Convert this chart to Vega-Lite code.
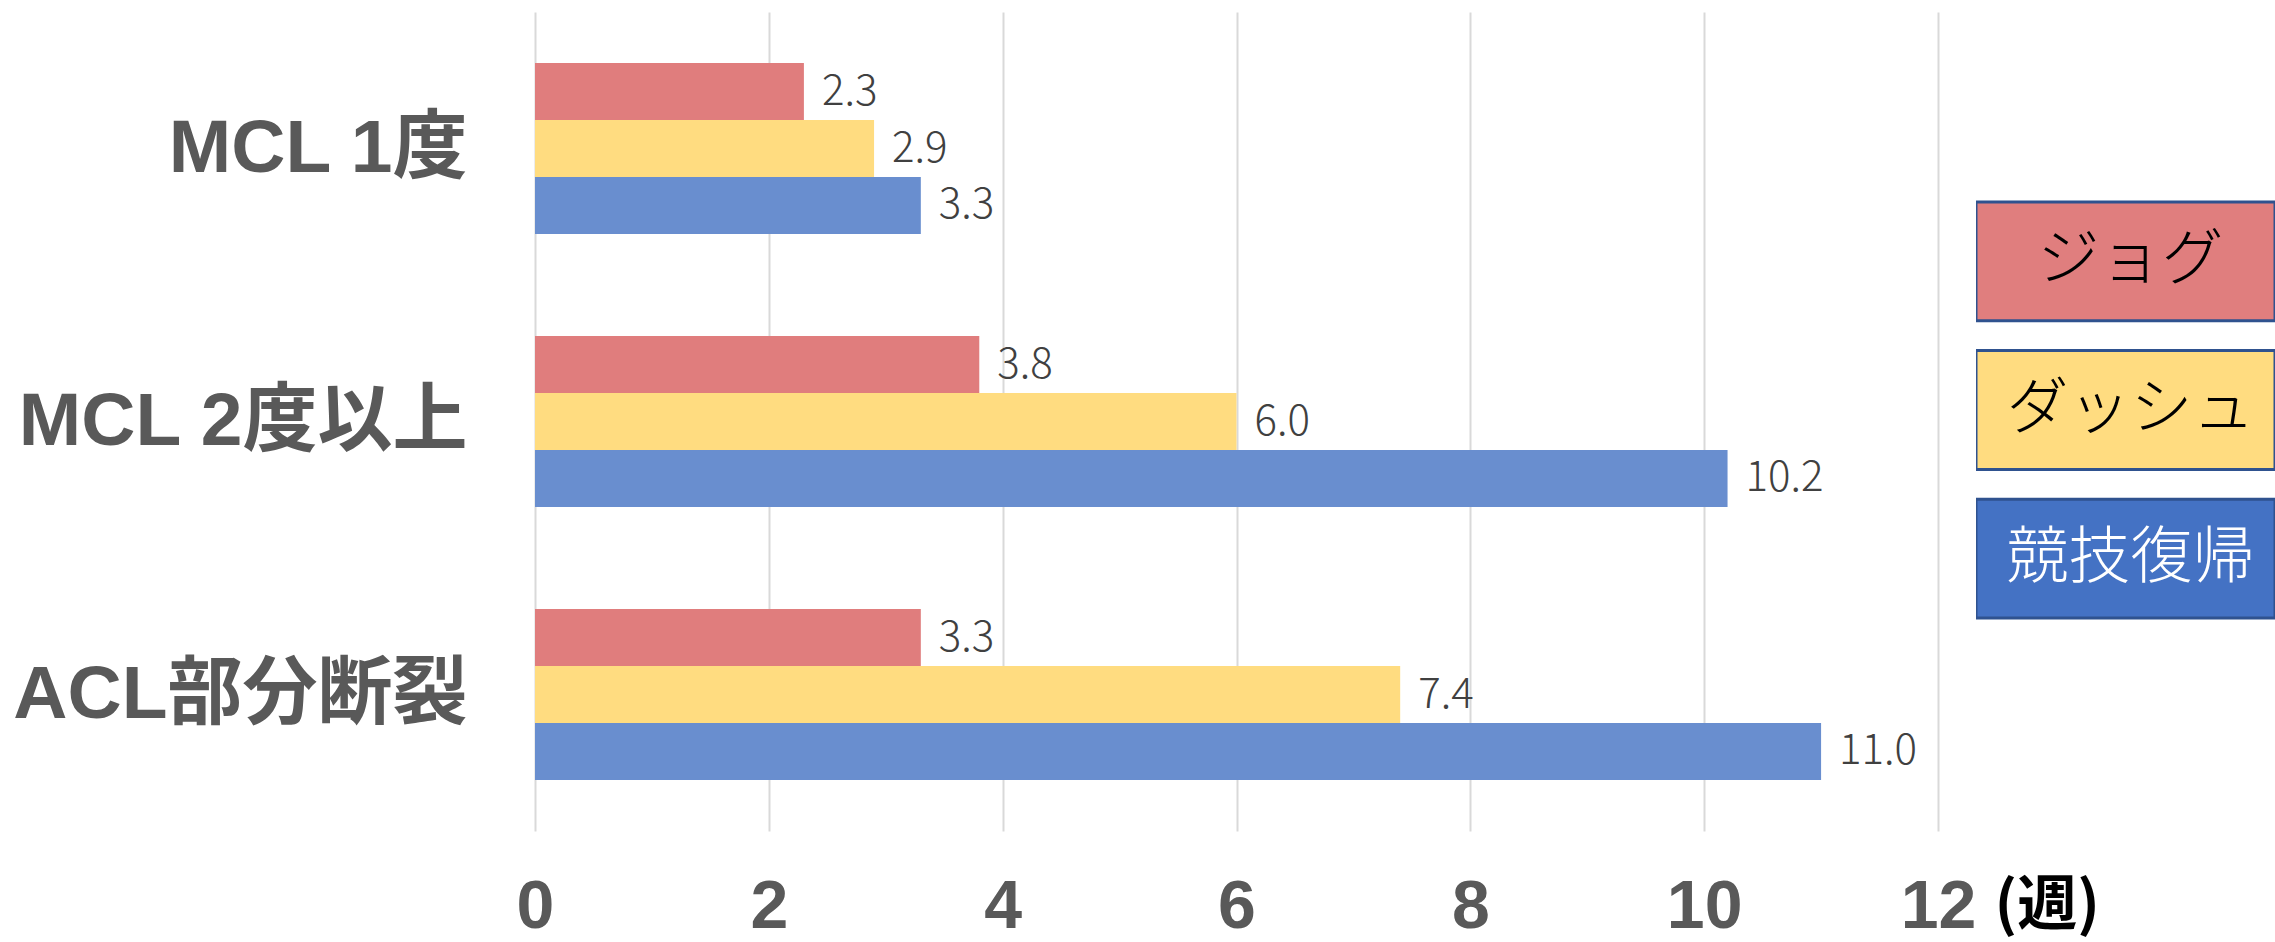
{
  "$schema": "https://vega.github.io/schema/vega-lite/v6.json",
  "background": "white",
  "padding": {"left": 12, "top": 12, "right": 0, "bottom": 0},
  "autosize": {"type": "pad"},
  "datasets": {
    "bars": [
      {"cat": "MCL 1度", "series": "ジョグ", "value": 2.3},
      {"cat": "MCL 1度", "series": "ダッシュ", "value": 2.9},
      {"cat": "MCL 1度", "series": "競技復帰", "value": 3.3},
      {"cat": "MCL 2度以上", "series": "ジョグ", "value": 3.8},
      {"cat": "MCL 2度以上", "series": "ダッシュ", "value": 6.0},
      {"cat": "MCL 2度以上", "series": "競技復帰", "value": 10.2},
      {"cat": "ACL部分断裂", "series": "ジョグ", "value": 3.3},
      {"cat": "ACL部分断裂", "series": "ダッシュ", "value": 7.4},
      {"cat": "ACL部分断裂", "series": "競技復帰", "value": 11.0}
    ],
    "legend": [
      {"series": "ジョグ"},
      {"series": "ダッシュ"},
      {"series": "競技復帰"}
    ]
  },
  "bounds": "flush",
  "spacing": 38,
  "resolve": {"scale": {"color": "independent", "fill": "independent", "y": "independent"}},
  "config": {"view": {"stroke": null}},
  "hconcat": [
    {
      "width": 1403,
      "height": 819,
      "data": {"name": "bars"},
      "encoding": {
        "y": {
          "field": "cat", "type": "nominal",
          "sort": ["MCL 1度", "MCL 2度以上", "ACL部分断裂"],
          "scale": {"paddingInner": 0.374, "paddingOuter": 0.187},
          "title": null,
          "axis": {
            "domain": false, "ticks": false, "tickSize": 0, "grid": false,
            "labelFont": "Liberation Sans, Noto Sans CJK JP",
            "labelFontSize": 75, "labelFontWeight": "bold", "labelColor": "#595959",
            "labelPadding": 68, "labelLimit": 0, "labelBaseline": "middle"
          }
        },
        "yOffset": {
          "field": "series", "type": "nominal",
          "sort": ["ジョグ", "ダッシュ", "競技復帰"],
          "scale": {"paddingInner": 0, "paddingOuter": 0}
        },
        "x": {
          "field": "value", "type": "quantitative",
          "scale": {"domain": [0, 12], "nice": false},
          "axis": {
            "values": [0, 2, 4, 6, 8, 10, 12],
            "grid": true, "gridColor": "#D9D9D9", "gridWidth": 2,
            "domain": false, "ticks": false, "tickSize": 0,
            "labelFont": "Liberation Sans", "labelFontSize": 68, "labelFontWeight": "bold",
            "labelColor": "#595959", "labelPadding": 76, "labelBaseline": "middle",
            "labelFlush": false, "labelOverlap": false,
            "title": "(週)", "titleFont": "Noto Sans CJK JP", "titleFontSize": 60,
            "titleFontWeight": "bold", "titleColor": "#000000",
            "titleX": 1459, "titleY": 75, "titleAlign": "left", "titleBaseline": "middle",
            "titleAngle": 0
          }
        }
      },
      "layer": [
        {
          "mark": {"type": "bar"},
          "encoding": {
            "color": {
              "field": "series", "type": "nominal",
              "scale": {"domain": ["ジョグ", "ダッシュ", "競技復帰"], "range": ["#E07D7D", "#FFDC80", "#698ECF"]},
              "legend": null
            }
          }
        },
        {
          "mark": {"type": "text", "align": "left", "baseline": "middle", "dx": 18,
                   "font": "Noto Sans CJK JP", "fontWeight": 300, "fontSize": 42, "color": "#404040"},
          "encoding": {
            "text": {"field": "value", "type": "quantitative", "format": ".1f"}
          }
        }
      ]
    },
    {
      "width": 299,
      "height": 819,
      "data": {"name": "legend"},
      "encoding": {
        "y": {
          "field": "series", "type": "nominal",
          "sort": ["ジョグ", "ダッシュ", "競技復帰"],
          "scale": {"range": [190, 606], "paddingInner": 0.2, "paddingOuter": 0},
          "axis": null
        }
      },
      "layer": [
        {
          "mark": {"type": "rect", "stroke": "#2F528F", "strokeWidth": 3, "clip": true, "x2Offset": 20},
          "encoding": {
            "fill": {
              "field": "series", "type": "nominal",
              "scale": {"domain": ["ジョグ", "ダッシュ", "競技復帰"], "range": ["#E07E7E", "#FFDC80", "#4472C4"]},
              "legend": null
            }
          }
        },
        {
          "mark": {"type": "text", "align": "center", "baseline": "middle", "dx": 5,
                   "font": "Noto Sans CJK JP", "fontWeight": 300, "fontSize": 62},
          "encoding": {
            "text": {"field": "series", "type": "nominal"},
            "color": {
              "field": "series", "type": "nominal",
              "scale": {"domain": ["ジョグ", "ダッシュ", "競技復帰"], "range": ["#000000", "#000000", "#FFFFFF"]},
              "legend": null
            }
          }
        }
      ]
    }
  ]
}
